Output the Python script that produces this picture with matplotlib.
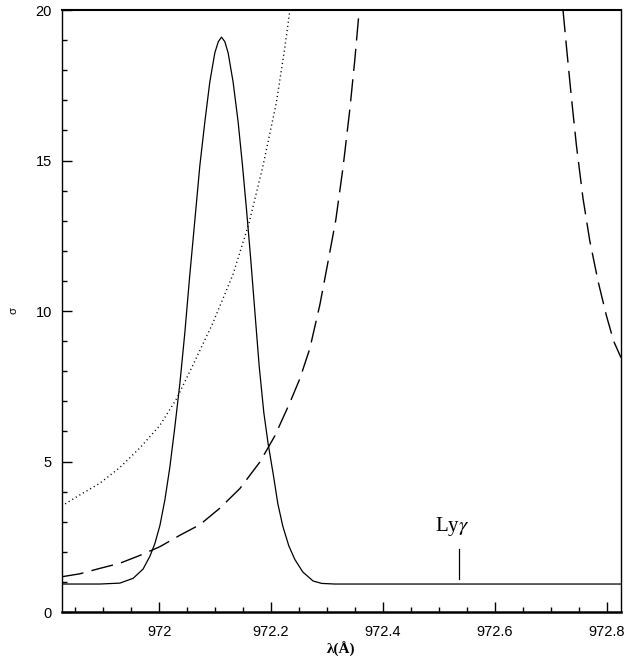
import matplotlib
matplotlib.use("Agg")
import matplotlib.pyplot as plt
from matplotlib.ticker import MultipleLocator, FuncFormatter

# values
solid_x = [971.8257, 971.8941, 971.9298, 971.9536, 971.9714, 971.9834, 971.9923, 972.0013,
           972.0102, 972.0191, 972.0280, 972.0370, 972.0459, 972.0548, 972.0638, 972.0727,
           972.0816, 972.0905, 972.0995, 972.1057, 972.1114, 972.1173, 972.1232, 972.1321,
           972.1411, 972.1489, 972.1561, 972.1632, 972.1709, 972.1786, 972.1870, 972.1946,
           972.2036, 972.2120, 972.2209, 972.2316, 972.2423, 972.2566, 972.2750, 972.2905,
           972.3138, 972.825]
solid_y = [0.93, 0.93, 0.96, 1.12, 1.43, 1.85, 2.27, 2.87,
           3.72, 4.81, 6.14, 7.59, 9.28, 11.21, 13.02, 14.83,
           16.28, 17.61, 18.58, 18.95, 19.10, 18.95, 18.58, 17.61,
           16.28, 14.83, 13.36, 11.81, 10.0, 8.19, 6.62, 5.6,
           4.6, 3.6, 2.85, 2.2, 1.75, 1.33, 1.03, 0.95,
           0.93, 0.93]

dot_x = [971.8257, 971.8584, 971.8941, 971.9298, 971.9655, 972.0013, 972.0316, 972.0602,
         972.0959, 972.1316, 972.1602, 972.1852, 972.2091, 972.2241, 972.2336]
dot_y = [3.52, 3.89, 4.28, 4.80, 5.45, 6.20, 7.10, 8.20,
         9.60, 11.20, 12.90, 14.80, 16.90, 18.70, 20.0]

dash_left_x = [971.8257, 971.8584, 971.8941, 971.9298, 971.9655, 972.0013, 972.0370, 972.0727,
               972.1084, 972.1441, 972.1798, 972.2066, 972.2334, 972.2513, 972.2691, 972.2870,
               972.3013, 972.3155, 972.3286, 972.3405, 972.3495, 972.3571]
dash_left_y = [1.17, 1.27, 1.45, 1.62, 1.88, 2.17, 2.55, 2.90,
               3.45, 4.10, 4.98, 5.85, 6.95, 7.75, 8.75, 10.2,
               11.6, 13.02, 14.79, 16.68, 18.34, 19.94]
dash_right_x = [972.7214, 972.7280, 972.7364, 972.7454, 972.7571, 972.7691, 972.7839, 972.7989,
                972.8119, 972.8250]
dash_right_y = [20.0, 18.7, 17.1, 15.5, 13.75, 12.35, 11.0, 9.85, 9.0, 8.45]

line_x = 972.536
line_y = [1.10, 2.09]
line_label = "Ly$\\gamma$"

plt.rcParams['font.family'] = ['Liberation Sans', 'DejaVu Sans']
plt.rcParams['mathtext.fontset'] = 'stix'

fig = plt.figure(figsize=(6.3, 6.6), dpi=100)
ax = fig.add_axes([0.098, 0.0727, 0.8877, 0.9121])

ax.plot(solid_x, solid_y, color='black', lw=0.9)
ax.plot(dot_x, dot_y, color='black', lw=1.0, dashes=(0.8, 2.2))
ax.plot(dash_left_x, dash_left_y, color='black', lw=1.0, dashes=(16, 6))
ax.plot(dash_right_x, dash_right_y, color='black', lw=1.0, dashes=(16, 6))

ax.plot([line_x, line_x], line_y, color='black', lw=0.9)
ax.text(line_x - 0.013, 2.45, line_label, family='Liberation Serif', fontsize=15,
        ha='center', va='bottom')

ax.set_xlim(971.826, 972.825)
ax.set_ylim(0, 20)
ax.xaxis.set_major_locator(MultipleLocator(0.2))
ax.xaxis.set_minor_locator(MultipleLocator(0.05))
ax.yaxis.set_major_locator(MultipleLocator(5))
ax.yaxis.set_minor_locator(MultipleLocator(1))
ax.xaxis.set_major_formatter(FuncFormatter(lambda v, p: f"{v:g}"))

ax.tick_params(which='both', direction='in', top=False, right=False, labelsize=10.5,
               width=1.0)
ax.tick_params(which='major', length=7)
ax.tick_params(which='minor', length=3.5)
ax.tick_params(axis='x', pad=9)
ax.tick_params(axis='y', pad=7)

ax.spines['bottom'].set_linewidth(1.8)
ax.spines['top'].set_linewidth(1.5)
ax.spines['left'].set_linewidth(1.0)
ax.spines['right'].set_linewidth(1.0)

ax.set_xlabel("λ(Å)", family='Liberation Serif', fontsize=11, fontweight='bold')
ax.xaxis.set_label_coords(0.4994, -0.049)
ax.set_ylabel("σ", fontsize=8)
ax.yaxis.set_label_coords(-0.078, 0.5)

fig.savefig("out.png", dpi=100)
